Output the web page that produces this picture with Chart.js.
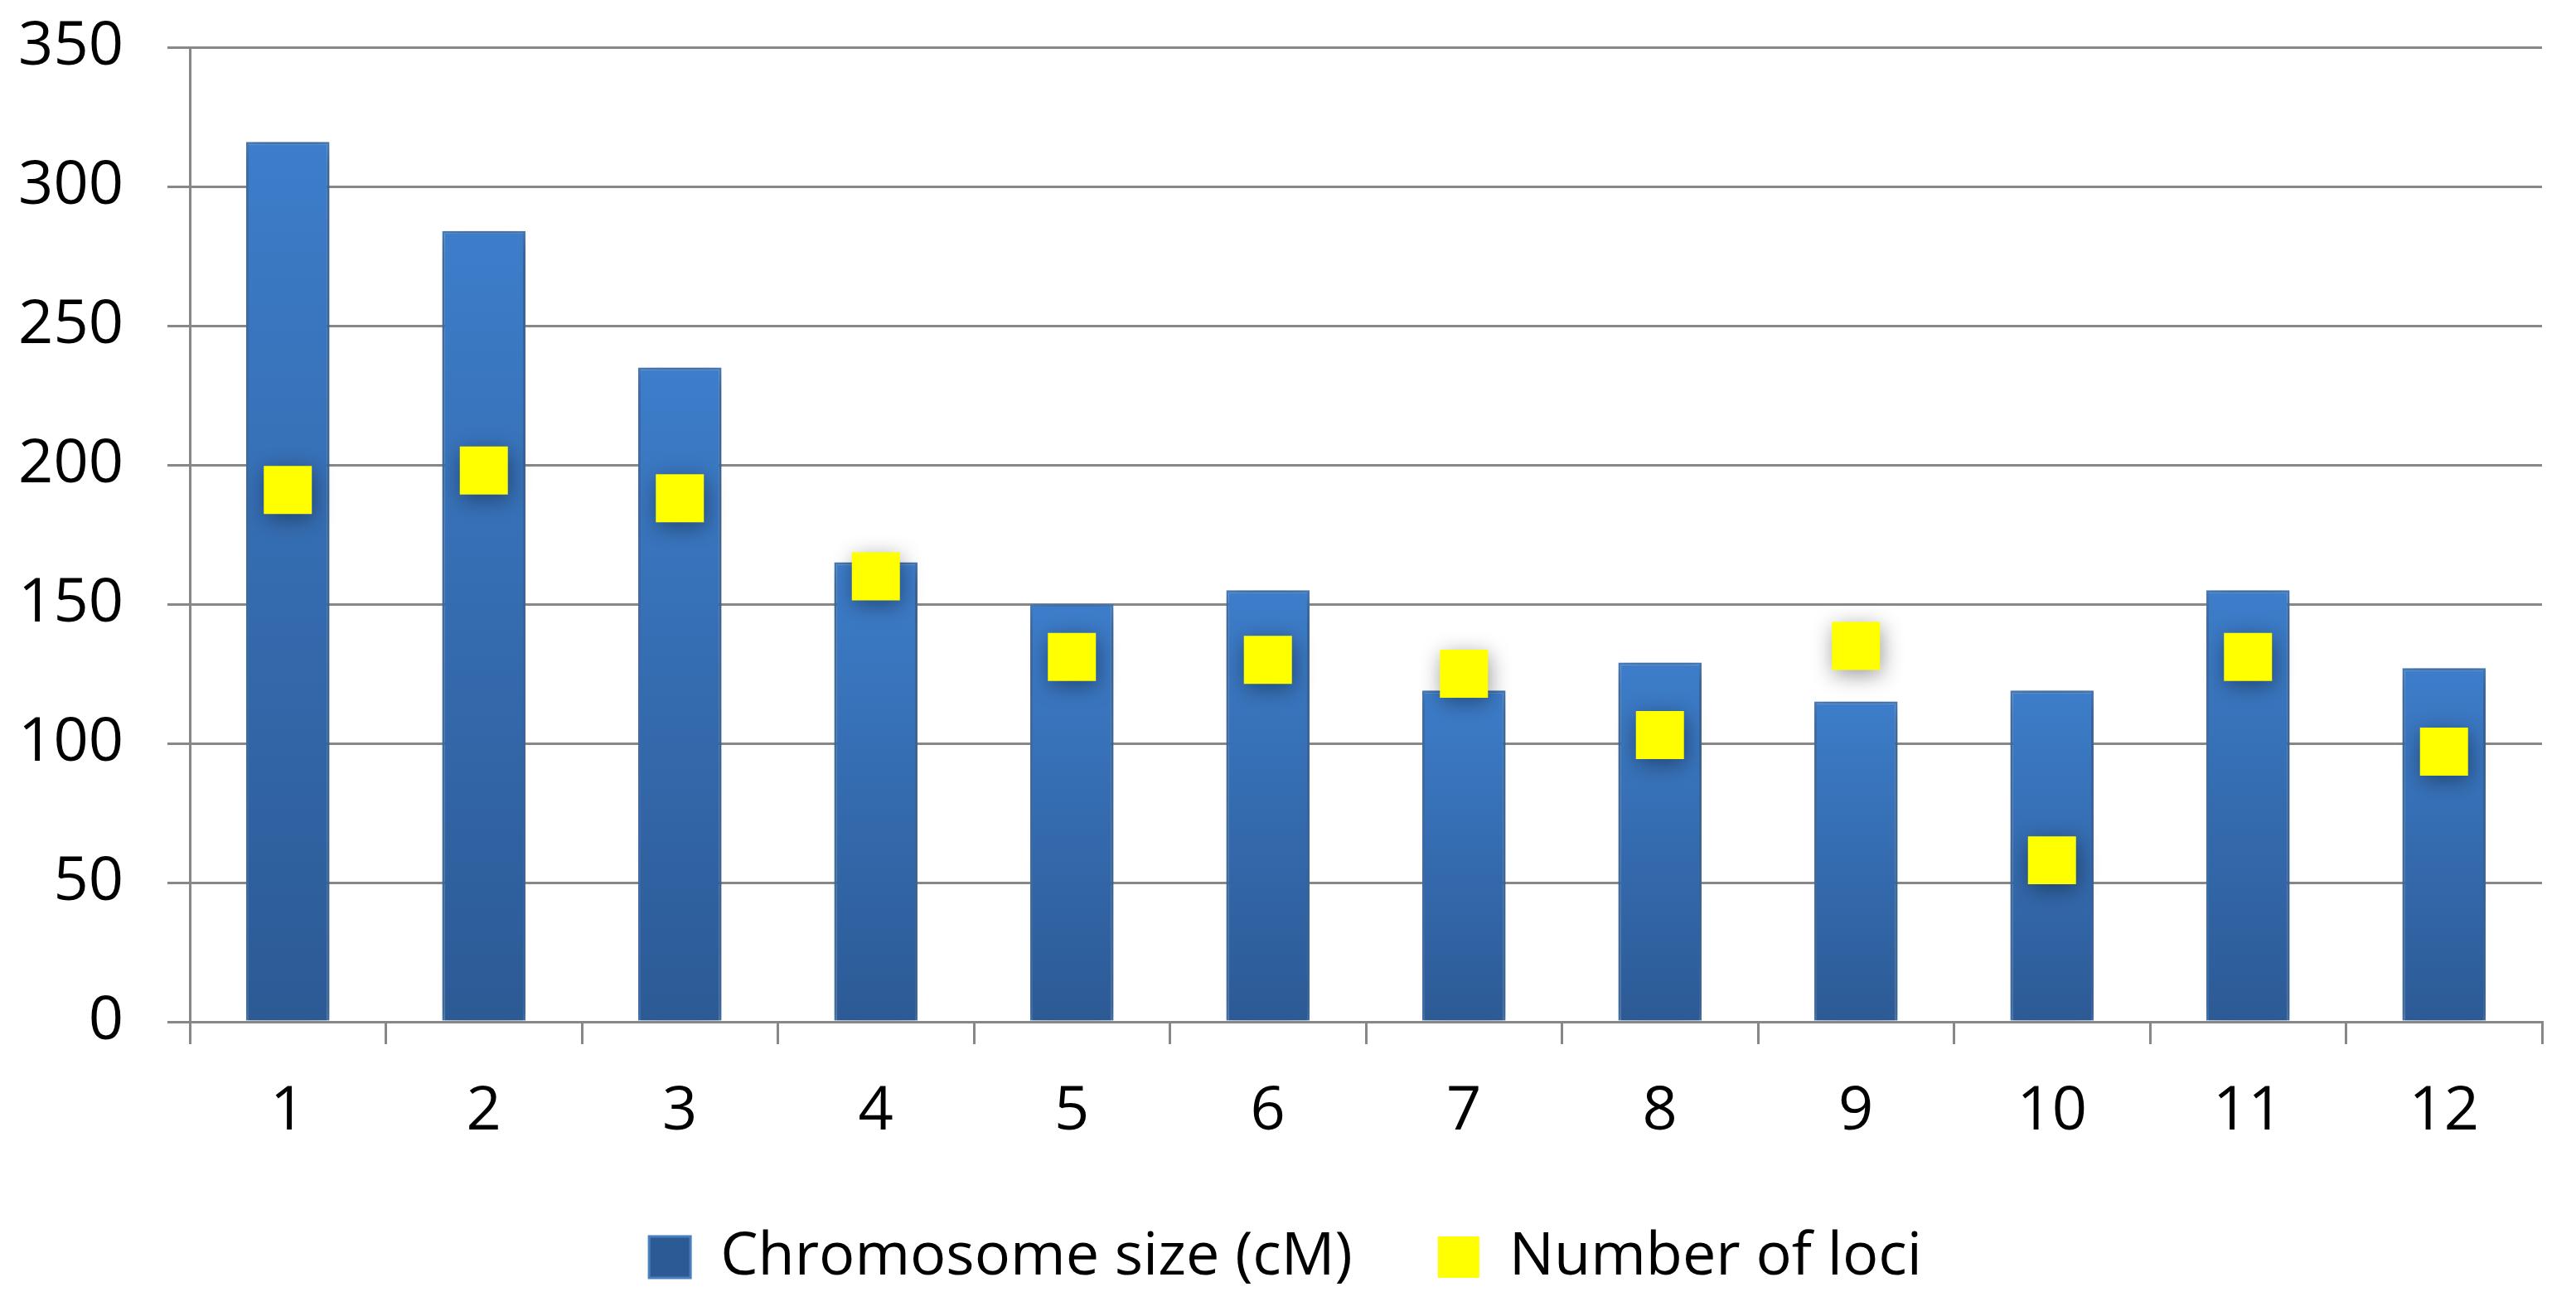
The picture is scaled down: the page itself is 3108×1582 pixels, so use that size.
<!DOCTYPE html>
<html>
<head>
<meta charset="utf-8">
<script src="https://cdn.jsdelivr.net/npm/chart.js@4.4.1/dist/chart.umd.min.js"></script>
<style>
  html, body { margin: 0; padding: 0; background: #ffffff; }
  #wrap { width: 3108px; height: 1582px; }
</style>
</head>
<body>
<div id="wrap"><canvas id="chartCanvas" width="3108" height="1582"></canvas></div>
<script>
"use strict";

const chromosomes = ["1", "2", "3", "4", "5", "6", "7", "8", "9", "10", "11", "12"];
const chromosomeSize = [316, 284, 235, 165, 150, 155, 119, 129, 115, 119, 155, 127];
const lociCount = [191, 198, 188, 160, 131, 130, 125, 103, 135, 58, 131, 97];
const yTicks = [0, 50, 100, 150, 200, 250, 300, 350];

const GRID = "#878787";
const FONT = "'Open Sans', 'Noto Sans', sans-serif";

// soft drop shadow like the Office chart style
const shadowPlugin = {
  id: "shadow",
  beforeDatasetDraw(chart) {
    const c = chart.ctx;
    c.save();
    c.shadowColor = "rgba(0, 0, 0, 0.4)";
    c.shadowBlur = 26;
    c.shadowOffsetX = 2;
    c.shadowOffsetY = 6;
  },
  afterDatasetDraw(chart) {
    chart.ctx.restore();
  },
};

function barFill(context) {
  const solid = "#3A72B8";
  if (context.type !== "data") return solid;
  const y = context.chart.scales.y;
  if (!y) return solid;
  const top = y.getPixelForValue(context.raw);
  const base = y.getPixelForValue(0);
  if (!Number.isFinite(top) || !Number.isFinite(base) || top === base) return solid;
  const g = context.chart.ctx.createLinearGradient(0, top, 0, base);
  g.addColorStop(0, "#3D7DCA");
  g.addColorStop(1, "#2C5A95");
  return g;
}

const ctx = document.getElementById("chartCanvas").getContext("2d");

new Chart(ctx, {
  data: {
    labels: chromosomes,
    datasets: [
      {
        type: "bar",
        label: "Chromosome size (cM)",
        data: chromosomeSize,
        backgroundColor: barFill,
        borderColor: "#4A7FBF",
        borderWidth: 3,
        categoryPercentage: 1,
        barPercentage: 0.425,
        order: 1,
      },
      {
        type: "line",
        label: "Number of loci",
        data: lociCount,
        showLine: false,
        pointStyle: "rect",
        pointRadius: 41,
        pointHoverRadius: 41,
        pointBackgroundColor: "#FFFF00",
        backgroundColor: "#FFFF00",
        borderColor: "#FFFF00",
        pointBorderWidth: 0,
        borderWidth: 0,
        order: 0,
      },
    ],
  },
  plugins: [shadowPlugin],
  options: {
    responsive: false,
    animation: false,
    devicePixelRatio: 1,
    layout: { padding: { top: 57, right: 28, left: 22, bottom: 19 } },
    plugins: {
      tooltip: { enabled: false },
      legend: {
        position: "bottom",
        labels: {
          font: { family: FONT, size: 72 },
          color: "#000000",
          boxWidth: 50,
          boxHeight: 50,
          padding: 103,
          sort: (a, b) => a.datasetIndex - b.datasetIndex,
        },
      },
    },
    scales: {
      x: {
        offset: true,
        afterFit: (scale) => {
          scale.height = 145;
          scale.paddingLeft = 0;
          scale.paddingRight = 0;
        },
        grid: {
          offset: true,
          drawOnChartArea: false,
          drawTicks: true,
          tickLength: 27,
          color: GRID,
          lineWidth: 3,
        },
        border: { display: true, color: GRID, width: 3 },
        ticks: {
          font: { family: FONT, size: 74 },
          color: "#000000",
          padding: 38,
          maxRotation: 0,
        },
      },
      y: {
        min: 0,
        max: 350,
        afterFit: (scale) => {
          scale.width = 207;
          scale.paddingTop = 0;
          scale.paddingBottom = 0;
        },
        afterBuildTicks: (scale) => {
          scale.ticks = yTicks.map((v) => ({ value: v }));
        },
        grid: {
          color: GRID,
          lineWidth: 3,
          tickLength: 27,
          drawTicks: true,
        },
        border: { display: true, color: GRID, width: 3 },
        ticks: {
          font: { family: FONT, size: 74 },
          color: "#000000",
          padding: 53,
        },
      },
    },
  },
});
</script>
</body>
</html>
